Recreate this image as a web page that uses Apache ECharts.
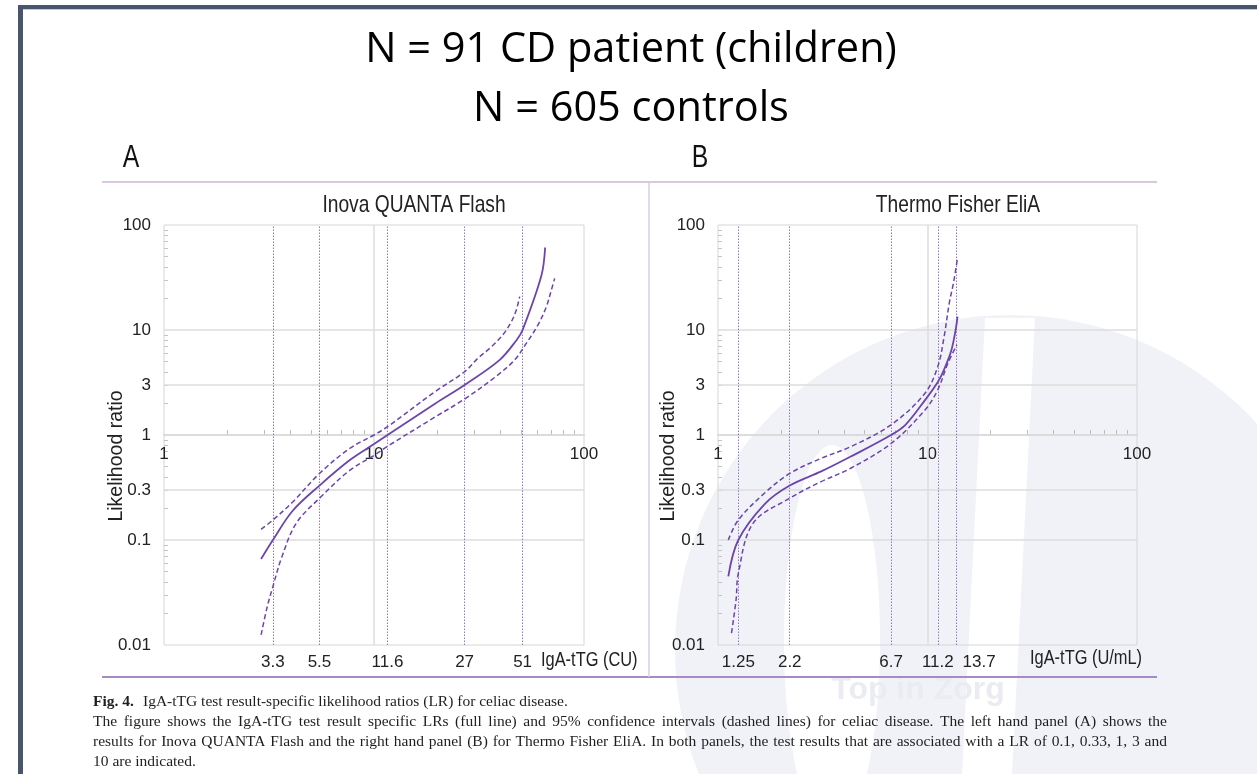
<!DOCTYPE html>
<html><head><meta charset="utf-8">
<script src="https://cdn.jsdelivr.net/npm/echarts@6/dist/echarts.min.js"></script>
<style>html,body{margin:0;padding:0;background:#fff}#c{width:1257px;height:774px}</style>
</head><body><div id="c"></div>
<script>
// ---------------- data ----------------
const yTickLabels = [0.01, 0.1, 0.3, 1, 3, 10, 100];
const xCrossLabels = [1, 10, 100];
const xMinorTicks = [2, 3, 4, 5, 6, 7, 8, 9, 20, 30, 40, 50, 60, 70, 80, 90];
const yMinorTicks = [0.02, 0.03, 0.04, 0.05, 0.06, 0.07, 0.08, 0.09, 0.2, 0.3, 0.4, 0.5, 0.6, 0.7, 0.8, 0.9,
                     2, 3, 4, 5, 6, 7, 8, 9, 20, 30, 40, 50, 60, 70, 80, 90];
const hGridValues = [0.1, 0.3, 1, 3, 10];
const vGridValues = [10];

// Panel A: Inova QUANTA Flash (IgA-tTG, CU)
const leftCutoffs = [3.3, 5.5, 11.6, 27, 51];
const leftMainX = [2.9, 3.3, 4.1, 5.5, 7.7, 10, 11.6, 19.6, 27, 39.7, 47.7, 51, 62.7, 65.3];
const leftMainY = [0.066, 0.1, 0.19, 0.33, 0.58, 0.82, 1.0, 2.0, 3.0, 5.2, 8.0, 10, 33, 61];
const leftUpperX = [2.9, 3.3, 4.1, 5.5, 7.7, 10, 11.6, 19.6, 27, 31.3, 36.2, 41.1, 45.1, 47.6, 49.4];
const leftUpperY = [0.126, 0.155, 0.23, 0.43, 0.75, 1.0, 1.2, 2.6, 4.0, 5.4, 6.9, 9.0, 12, 15.5, 20.8];
const leftLowerX = [2.9, 3.1, 3.3, 3.64, 4.26, 5.5, 7.66, 10, 11.6, 19.6, 27, 38, 46.8, 53.2, 60.4, 66.2, 69.9, 72.5];
const leftLowerY = [0.0125, 0.023, 0.036, 0.069, 0.144, 0.25, 0.46, 0.64, 0.78, 1.49, 2.2, 3.6, 5.2, 7.5, 11.2, 16.7, 24, 31];

// Panel B: Thermo Fisher EliA (IgA-tTG, U/mL)
const rightCutoffs = [1.25, 2.2, 6.7, 11.2, 13.7];
const rightMainX = [1.12, 1.25, 1.67, 2.2, 3.11, 4.28, 6.7, 7.85, 9.73, 11.2, 12.0, 13.0, 13.7, 13.9];
const rightMainY = [0.045, 0.1, 0.22, 0.33, 0.45, 0.62, 1.0, 1.25, 2.15, 3.2, 4.2, 6.4, 10.7, 13.4];
const rightUpperX = [1.12, 1.25, 1.67, 2.2, 3.11, 4.28, 6.7, 9.73, 11.2, 12.0, 12.7, 13.3, 13.9];
const rightUpperY = [0.1, 0.155, 0.28, 0.43, 0.6, 0.77, 1.25, 2.5, 4.5, 8.6, 18, 28, 48];
const rightLowerX = [1.16, 1.22, 1.25, 1.47, 2.2, 3.11, 4.28, 6.7, 9.73, 11.2, 12.5, 13.8];
const rightLowerY = [0.013, 0.027, 0.048, 0.144, 0.25, 0.36, 0.48, 0.83, 1.73, 2.7, 4.8, 7.2];

const captionLines = [
  'IgA-tTG test result-specific likelihood ratios (LR) for celiac disease.',
  'The figure shows the IgA-tTG test result specific LRs (full line) and 95% confidence intervals (dashed lines) for celiac disease. The left hand panel (A) shows the',
  'results for Inova QUANTA Flash and the right hand panel (B) for Thermo Fisher EliA. In both panels, the test results that are associated with a LR of 0.1, 0.33, 1, 3 and',
  '10 are indicated.'
];

// ---------------- styling ----------------
const SANS = "'Liberation Sans',Arial,sans-serif";
const SERIF = "'Liberation Serif','Times New Roman',serif";
const PURPLE = '#6d44ab';
const DOT = '#9575cc';
const GRIDC = '#dcdcdc';
const TXT = '#222';
const AX_FS = 17;
const fmt = v => String(+(+v).toPrecision(4));
const zip = (xs, ys) => xs.map((x, i) => [x, ys[i]]);

const grids = [
  { left: 164, top: 225, width: 420, height: 420, show: true, borderColor: '#d6d6d6', borderWidth: 1, backgroundColor: 'transparent' },
  { left: 718, top: 225, width: 419, height: 420, show: true, borderColor: '#d6d6d6', borderWidth: 1, backgroundColor: 'transparent' }
];

const xAxes = [], yAxes = [], series = [];
function addPanel(gi, cutoffs, shiftRight, main, upper, lower) {
  const bx = xAxes.length, by = yAxes.length;
  xAxes.push({
    gridIndex: gi, type: 'log', logBase: 10, min: 1, max: 100,
    axisLine: { show: false }, axisTick: { show: false }, splitLine: { show: false },
    axisLabel: {
      customValues: cutoffs, margin: 9, fontFamily: SANS, fontSize: AX_FS, color: TXT,
      showMinLabel: true, showMaxLabel: true, hideOverlap: false,
      formatter: v => { const s = fmt(v); return shiftRight.indexOf(s) >= 0 ? '{s|' + s + '}' : s; },
      rich: { s: { padding: [0, 0, 0, 46], fontFamily: SANS, fontSize: AX_FS, color: TXT } }
    }
  });
  xAxes.push({
    gridIndex: gi, type: 'log', logBase: 10, min: 1, max: 100, position: 'bottom', offset: -210,
    axisLine: { show: true, lineStyle: { color: '#cdcdcd', width: 1.5 } },
    axisTick: { show: true, inside: true, length: 5, customValues: xMinorTicks, lineStyle: { color: '#bcbcbc' } },
    splitLine: { show: false },
    axisLabel: { customValues: xCrossLabels, formatter: fmt, margin: 11, fontFamily: SANS, fontSize: AX_FS, color: TXT, showMinLabel: true, showMaxLabel: true }
  });
  yAxes.push({
    gridIndex: gi, type: 'log', logBase: 10, min: 0.01, max: 100,
    axisLine: { show: false }, splitLine: { show: false },
    axisTick: { show: true, inside: true, length: 4, customValues: yMinorTicks, lineStyle: { color: '#c4c4c4' } },
    axisLabel: { customValues: yTickLabels, formatter: fmt, margin: 13, fontFamily: SANS, fontSize: AX_FS, color: TXT, showMinLabel: true, showMaxLabel: true }
  });
  const ml = [].concat(
    hGridValues.map(v => ({ yAxis: v, lineStyle: { color: GRIDC, width: 1.5, type: 'solid' } })),
    vGridValues.map(v => ({ xAxis: v, lineStyle: { color: GRIDC, width: 1.5, type: 'solid' } })),
    cutoffs.map(v => ({ xAxis: v, lineStyle: { color: DOT, width: 1, type: [1.5, 1.5] } }))
  );
  series.push({
    type: 'line', xAxisIndex: bx, yAxisIndex: by, data: [], z: 1, silent: true,
    markLine: { silent: true, symbol: 'none', label: { show: false }, animation: false, data: ml }
  });
  const common = { type: 'line', xAxisIndex: bx, yAxisIndex: by, showSymbol: false, smooth: 0.35, z: 5, silent: true };
  series.push(Object.assign({}, common, { name: 'LR', data: main, lineStyle: { color: PURPLE, width: 1.8 } }));
  series.push(Object.assign({}, common, { name: 'upper 95% CI', data: upper, lineStyle: { color: PURPLE, width: 1.5, type: [5, 3] } }));
  series.push(Object.assign({}, common, { name: 'lower 95% CI', data: lower, lineStyle: { color: PURPLE, width: 1.5, type: [5, 3] } }));
}
addPanel(0, leftCutoffs, [], zip(leftMainX, leftMainY), zip(leftUpperX, leftUpperY), zip(leftLowerX, leftLowerY));
addPanel(1, rightCutoffs, ['13.7'], zip(rightMainX, rightMainY), zip(rightUpperX, rightUpperY), zip(rightLowerX, rightLowerY));

const T = (x, y, text, font, size, extra, sx) => ({
  type: 'text', x, y, silent: true, scaleX: sx || 1,
  style: Object.assign({ text, fontFamily: font, fontSize: size, fill: TXT, align: 'center', verticalAlign: 'middle' }, extra || {})
});

// caption, justified lines built word by word
const CAP_FS = 15.5;
const measureCtx = document.createElement('canvas').getContext('2d');
function captionLine(text, x0, x1, y, justify) {
  if (!justify) {
    return [{ type: 'text', x: x0, y, silent: true, style: { text, fontFamily: SERIF, fontSize: CAP_FS, fill: '#1e1e1e', align: 'left', verticalAlign: 'middle' } }];
  }
  measureCtx.font = CAP_FS + 'px ' + SERIF;
  const words = text.split(' ');
  const ws = words.map(w => measureCtx.measureText(w).width);
  const total = ws.reduce((a, b) => a + b, 0);
  const gap = (x1 - x0 - total) / (words.length - 1);
  const out = [];
  let x = x0;
  words.forEach((w, i) => {
    out.push({ type: 'text', x, y, silent: true, style: { text: w, fontFamily: SERIF, fontSize: CAP_FS, fill: '#1e1e1e', align: 'left', verticalAlign: 'middle' } });
    x += ws[i] + gap;
  });
  return out;
}

const graphic = [
  // watermark (faint logo in background)
  { type: 'circle', shape: { cx: 1010, cy: 650, r: 335 }, style: { fill: '#f1f2f7' }, z: -20, silent: true },
  { type: 'ellipse', shape: { cx: 832, cy: 640, rx: 48, ry: 195 }, style: { fill: '#ffffff' }, z: -19, silent: true },
  { type: 'polygon', shape: { points: [[985, 318], [1035, 318], [1012, 774], [962, 774]] }, style: { fill: '#ffffff' }, z: -19, silent: true },
  { type: 'text', x: 918, y: 690, z: -18, silent: true, style: { text: 'Top in Zorg', fontFamily: SANS, fontSize: 32, fontWeight: 'bold', fill: '#eaecf2', align: 'center', verticalAlign: 'middle' } },
  // frame
  { type: 'rect', shape: { x: 18, y: 5, width: 1239, height: 4 }, style: { fill: '#47566d' }, silent: true },
  { type: 'rect', shape: { x: 18, y: 9, width: 1239, height: 1 }, style: { fill: '#c3cad4' }, silent: true },
  { type: 'rect', shape: { x: 18, y: 5, width: 5, height: 769 }, style: { fill: '#47566d' }, silent: true },
  // panel separators
  { type: 'line', shape: { x1: 102, y1: 182, x2: 1157, y2: 182 }, style: { stroke: '#d8c8e2', lineWidth: 2 }, silent: true },
  { type: 'line', shape: { x1: 102, y1: 677, x2: 1157, y2: 677 }, style: { stroke: '#a68ac6', lineWidth: 2 }, silent: true },
  { type: 'line', shape: { x1: 649, y1: 182, x2: 649, y2: 677 }, style: { stroke: '#d8cce2', lineWidth: 1.5 }, silent: true },
  // headings
  T(631, 50, 'N = 91 CD patient (children)', "'Open Sans',sans-serif", 41.5, { fill: '#000' }),
  T(631, 109, 'N = 605 controls', "'Open Sans',sans-serif", 41.5, { fill: '#000' }),
  T(131, 158, 'A', SANS, 31, { fill: '#111' }, 0.8),
  T(700, 158, 'B', SANS, 31, { fill: '#111' }, 0.8),
  T(414, 205, 'Inova QUANTA Flash', SANS, 24, null, 0.8),
  T(958, 205, 'Thermo Fisher EliA', SANS, 24, null, 0.8),
  T(541, 660, 'IgA-tTG (CU)', SANS, 20, { align: 'left' }, 0.82),
  T(1030, 658, 'IgA-tTG (U/mL)', SANS, 20, { align: 'left' }, 0.82),
  Object.assign(T(0, 0, 'Likelihood ratio', SANS, 19.5), { x: 117, y: 456, rotation: Math.PI / 2 }),
  Object.assign(T(0, 0, 'Likelihood ratio', SANS, 19.5), { x: 669, y: 456, rotation: Math.PI / 2 }),
  // caption
  { type: 'text', x: 93, y: 702, silent: true, style: { text: 'Fig. 4.', fontFamily: SERIF, fontSize: CAP_FS, fontWeight: 'bold', fill: '#1e1e1e', align: 'left', verticalAlign: 'middle' } }
].concat(
  captionLine(captionLines[0], 143, 0, 702, false),
  captionLine(captionLines[1], 93, 1167, 722, true),
  captionLine(captionLines[2], 93, 1167, 742, true),
  captionLine(captionLines[3], 93, 0, 762, false)
);

const chart = echarts.init(document.getElementById('c'), null, { renderer: 'canvas' });
chart.setOption({
  animation: false,
  backgroundColor: '#ffffff',
  grid: grids,
  xAxis: xAxes,
  yAxis: yAxes,
  series,
  graphic
});
</script></body></html>
